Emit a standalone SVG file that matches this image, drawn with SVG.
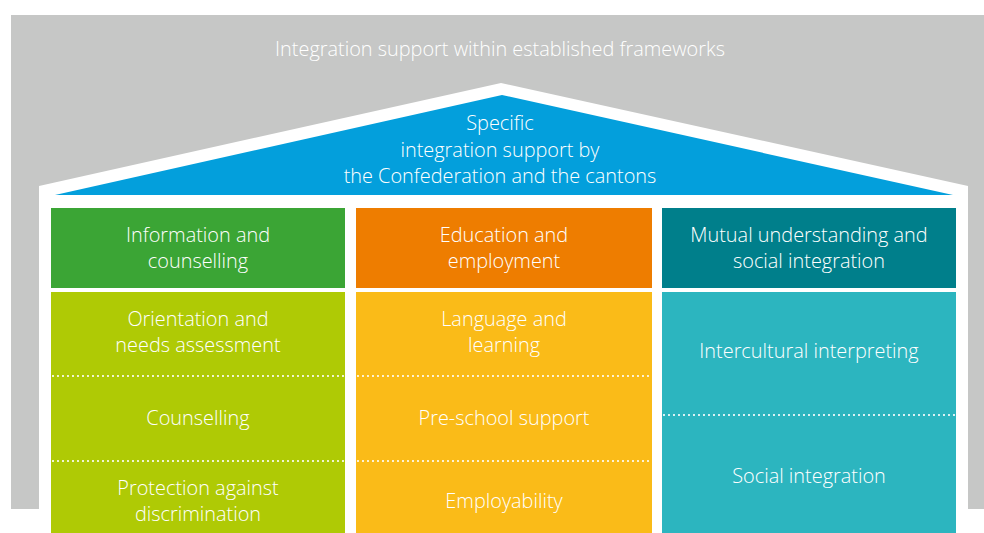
<svg xmlns="http://www.w3.org/2000/svg" width="984" height="533" viewBox="0 0 984 533">
<style>
text{font-family:"Open Sans","Liberation Sans",sans-serif;font-weight:300;font-size:19.9px;fill:#ffffff;text-anchor:middle}
.dots{stroke:#ffffff;stroke-width:2.2;stroke-dasharray:0 5;stroke-linecap:round;fill:none}
</style>
<rect x="0" y="0" width="984" height="533" fill="#ffffff"/>
<g id="frame">
<rect x="11" y="15" width="973" height="494" fill="#c6c7c6"/>
<polygon points="39,533 39,186 501,83 968,186 968,533" fill="#ffffff"/>
<text x="500" y="56">Integration support within established frameworks</text>
</g>
<g id="roof">
<polygon points="55,195 502,95 953,195" fill="#039fdc"/>
<text x="500" y="130">Specific</text>
<text x="500" y="157">integration support by</text>
<text x="500" y="183">the Confederation and the cantons</text>
</g>
<g id="col1">
<rect x="51" y="208" width="294" height="80" fill="#3ba535"/>
<text x="198" y="242">Information and</text>
<text x="198" y="268">counselling</text>
<rect x="51" y="292" width="294" height="241" fill="#afca05"/>
<text x="198" y="326">Orientation and</text>
<text x="198" y="352">needs assessment</text>
<text x="198" y="425">Counselling</text>
<text x="198" y="495">Protection against</text>
<text x="198" y="521">discrimination</text>
</g>
<g id="col2">
<rect x="356" y="208" width="296" height="80" fill="#ee7d00"/>
<text x="504" y="242">Education and</text>
<text x="504" y="268">employment</text>
<rect x="356" y="292" width="296" height="241" fill="#fabb18"/>
<text x="504" y="326">Language and</text>
<text x="504" y="352">learning</text>
<text x="504" y="425">Pre-school support</text>
<text x="504" y="508">Employability</text>
</g>
<g id="col3">
<rect x="662" y="208" width="294" height="80" fill="#007f8b"/>
<text x="809" y="242">Mutual understanding and</text>
<text x="809" y="268">social integration</text>
<rect x="662" y="292" width="294" height="241" fill="#2cb5bf"/>
<text x="809" y="358">Intercultural interpreting</text>
<text x="809" y="483">Social integration</text>
</g>
<g id="connectors">
<line class="dots" x1="53" y1="376" x2="652" y2="376"/>
<line class="dots" x1="53" y1="461" x2="652" y2="461"/>
<line class="dots" x1="664" y1="415" x2="956" y2="415"/>
</g>
</svg>
